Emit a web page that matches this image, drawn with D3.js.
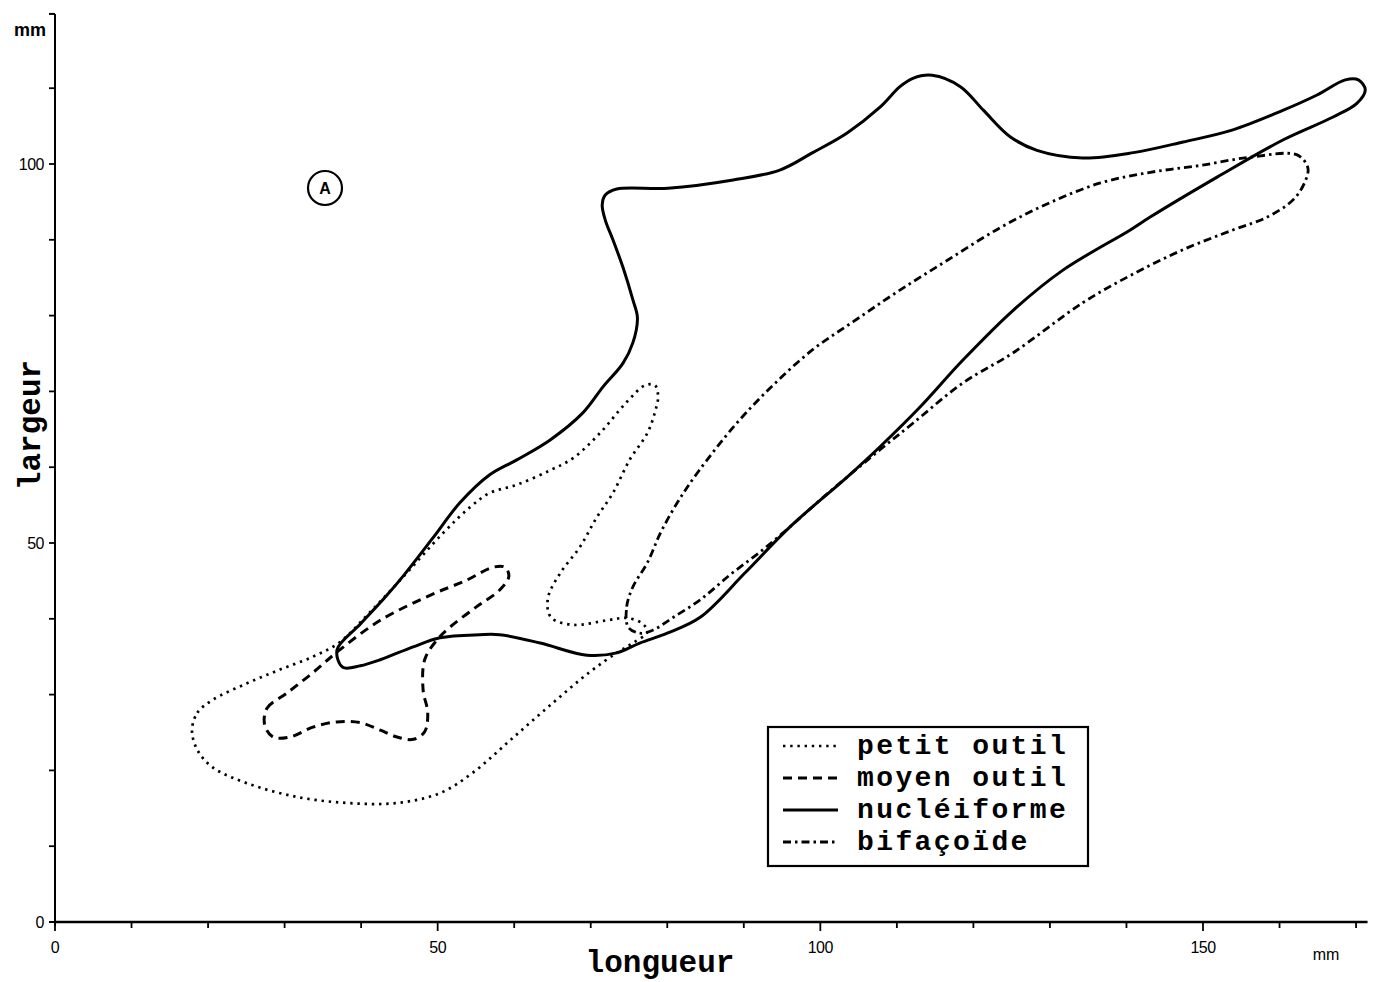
<!DOCTYPE html>
<html><head><meta charset="utf-8">
<script src="https://cdn.jsdelivr.net/npm/d3@7"></script>
<style>body{margin:0;background:#fff;}svg{display:block;}</style>
</head><body>
<svg id="c" width="1378" height="982"></svg>
<script>
// ---- data (mm) ----
const xTicks = [0,10,20,30,40,50,60,70,80,90,100,110,120,130,140,150,160,170];
const xTickLabels = [0,50,100,150];
const yTicks = [0,10,20,30,40,50,60,70,80,90,100,110];
const yTickLabels = [0,50,100];
const seriesNames = ["petit outil","moyen outil","nucléiforme","bifaçoïde"];

const petitOutil = [[17.9,25.3],[18.6,27.6],[20.6,29.3],[25.1,31.5],[29.4,33.3],[33.7,35.0],[37.2,36.9],[40.8,40.5],[45.1,45.1],[50.7,51.3],[54.2,54.7],[56.8,56.6],[60.4,57.7],[64.7,59.6],[67.7,61.2],[71.2,64.5],[74.7,68.6],[77.1,70.8],[78.4,70.8],[78.8,69.3],[78.4,67.3],[77.4,64.5],[75.1,61.0],[72.9,56.6],[70.8,53.4],[68.6,49.5],[66.0,46.0],[64.4,42.7],[64.8,40.2],[67.7,39.2],[72.1,39.8],[74.7,40.1],[76.7,39.4],[77.4,38.3],[75.5,36.8],[73.4,35.5],[69.9,33.0],[64.7,28.6],[59.5,24.0],[54.6,19.7],[50.3,17.0],[44.7,15.7],[38.2,15.7],[31.6,16.5],[25.1,18.3],[20.6,20.4],[18.6,22.7]];

const moyenOutil = [[27.4,26.0],[27.7,28.2],[30.3,30.2],[33.7,32.9],[37.2,35.9],[42.5,39.8],[49.0,43.1],[53.8,45.1],[57.2,46.8],[58.8,46.8],[59.3,45.6],[58.1,43.8],[55.1,41.6],[51.6,38.9],[49.9,37.2],[48.3,34.6],[48.1,30.6],[48.7,27.6],[48.3,25.1],[46.8,24.1],[44.7,24.4],[42.5,25.3],[39.9,26.3],[36.8,26.4],[33.7,25.7],[30.7,24.4],[28.5,24.4]];

const nucleiforme = [[36.85,35.9],[37.6,33.6],[39.9,33.8],[42.5,34.6],[46.8,36.3],[50.3,37.5],[55.5,37.9],[58.1,37.9],[63.4,36.8],[69.5,35.2],[73.4,35.5],[76.4,36.8],[80.0,38.1],[84.3,40.2],[90.2,46.1],[96.0,52.1],[103.5,58.7],[107.8,62.7],[113.0,67.9],[118.6,74.1],[125.2,80.7],[131.7,86.0],[140.5,91.3],[143.1,93.0],[151.9,98.3],[160.5,103.2],[167.0,106.2],[170.1,108.0],[171.2,109.8],[170.3,111.1],[168.6,111.1],[164.9,109.1],[160.5,107.1],[153.9,104.5],[147.4,102.9],[140.9,101.5],[134.3,100.8],[128.3,101.8],[124.8,103.6],[121.3,107.1],[118.3,110.2],[114.6,111.7],[112.1,111.3],[110.4,110.2],[107.8,107.5],[103.5,104.1],[99.0,101.5],[94.7,99.2],[88.6,97.9],[80.1,96.8],[73.4,96.7],[71.9,95.9],[71.5,94.6],[71.9,92.6],[72.9,90.0],[74.2,86.4],[75.5,82.1],[76.1,79.7],[75.5,76.4],[74.2,73.7],[71.6,70.6],[69.0,67.2],[64.7,63.6],[60.4,61.0],[56.8,59.0],[52.9,55.3],[49.4,50.7],[45.7,45.9],[43.1,42.8],[39.9,39.3]];

const bifacoide = [[74.9,38.9],[74.7,41.6],[75.5,44.2],[77.4,47.4],[79.1,51.3],[81.3,55.3],[83.9,59.2],[88.9,65.6],[93.8,70.8],[99.0,75.5],[104.3,79.2],[110.0,83.1],[116.6,87.3],[123.5,91.6],[130.0,94.9],[136.6,97.5],[143.1,98.9],[149.6,99.8],[156.2,100.9],[162.3,101.2],[163.7,99.5],[163.3,97.6],[161.8,95.3],[158.4,93.0],[153.9,91.3],[147.4,88.7],[140.9,85.5],[134.3,81.7],[125.2,75.1],[118.6,71.1],[112.1,65.8],[107.8,62.3],[103.5,58.7],[100.0,55.7],[96.0,52.1],[92.1,48.8],[88.2,45.8],[84.3,42.5],[80.8,40.2],[78.1,38.5],[76.4,38.1]];

// ---- drawing ----
const svg = d3.select("#c");
const x = d3.scaleLinear().domain([0,150]).range([55,1203]);
const y = d3.scaleLinear().domain([0,100]).range([922,164]);

const styles = [
  {data: petitOutil, dash: "2.4,4.8", width: 2.7, cap: "butt"},
  {data: moyenOutil, dash: "9,6", width: 3, cap: "butt"},
  {data: nucleiforme, dash: null, width: 3, cap: "round"},
  {data: bifacoide, dash: "8,4,2.5,4", width: 2.8, cap: "butt"}
];

const line = d3.line().x(d=>x(d[0])).y(d=>y(d[1])).curve(d3.curveCatmullRomClosed.alpha(0.5));

styles.forEach(s=>{
  svg.append("path").attr("d", line(s.data))
    .attr("fill","none").attr("stroke","#000")
    .attr("stroke-width", s.width)
    .attr("stroke-linecap", s.cap)
    .attr("stroke-linejoin", "round")
    .attr("stroke-dasharray", s.dash);
});

// axes
const axisG = svg.append("g");
axisG.append("line").attr("x1",x(0)).attr("x2",x(171.5)).attr("y1",y(0)).attr("y2",y(0))
  .attr("stroke","#000").attr("stroke-width",2.5);
axisG.append("line").attr("x1",x(0)).attr("x2",x(0)).attr("y1",y(0)+4).attr("y2",y(119.8))
  .attr("stroke","#000").attr("stroke-width",2);
axisG.append("line").attr("x1",x(0)-6).attr("x2",x(0)).attr("y1",y(119.8)).attr("y2",y(119.8))
  .attr("stroke","#000").attr("stroke-width",2);
axisG.append("line").attr("x1",x(0)-6).attr("x2",x(0)+10).attr("y1",y(0)).attr("y2",y(0))
  .attr("stroke","#000").attr("stroke-width",2);

axisG.selectAll(".xt").data(xTicks).enter().append("line")
  .attr("x1",d=>x(d)).attr("x2",d=>x(d))
  .attr("y1",y(0)).attr("y2",d=> y(0) + (d%50===0 ? 9 : 6))
  .attr("stroke","#000").attr("stroke-width",1.8);
axisG.selectAll(".yt").data(yTicks).enter().append("line")
  .attr("x1",x(0)-6).attr("x2",x(0))
  .attr("y1",d=>y(d)).attr("y2",d=>y(d))
  .attr("stroke","#000").attr("stroke-width",1.8);

const tickFont = "Liberation Sans, Arial, sans-serif";
axisG.selectAll(".xl").data(xTickLabels).enter().append("text")
  .attr("x",d=>x(d)).attr("y",y(0)+31)
  .attr("text-anchor","middle").attr("font-family",tickFont).attr("font-size",16)
  .attr("letter-spacing",-0.5).text(d=>d);
axisG.selectAll(".yl").data(yTickLabels).enter().append("text")
  .attr("x",x(0)-11).attr("y",d=>y(d)+6)
  .attr("text-anchor","end").attr("font-family",tickFont).attr("font-size",16)
  .attr("letter-spacing",-0.5).text(d=>d);
axisG.append("text").attr("x",x(0)-9).attr("y",y(119.8)+22).attr("text-anchor","end")
  .attr("font-family",tickFont).attr("font-size",18).attr("font-weight","bold").text("mm");
axisG.append("text").attr("x",1326).attr("y",y(0)+38).attr("text-anchor","middle")
  .attr("font-family",tickFont).attr("font-size",16).text("mm");

const mono = "Liberation Mono, DejaVu Sans Mono, monospace";
svg.append("text").attr("x",660).attr("y",972).attr("text-anchor","middle")
  .attr("font-family",mono).attr("font-size",31).attr("font-weight","bold").text("longueur");
svg.append("text").attr("transform","translate(40,425) rotate(-90)").attr("text-anchor","middle")
  .attr("font-family",mono).attr("font-size",31).attr("font-weight","bold").text("largeur");

// circled A
svg.append("circle").attr("cx",325).attr("cy",188).attr("r",17).attr("fill","none")
  .attr("stroke","#000").attr("stroke-width",2.2);
svg.append("text").attr("x",325).attr("y",194).attr("text-anchor","middle")
  .attr("font-family",tickFont).attr("font-weight","bold").attr("font-size",16).text("A");

// legend
const lg = svg.append("g");
lg.append("rect").attr("x",768).attr("y",727).attr("width",320).attr("height",139)
  .attr("fill","#fff").attr("stroke","#000").attr("stroke-width",2.2);
seriesNames.forEach((n,i)=>{
  const cy = 746 + i*32;
  lg.append("line").attr("x1",783).attr("x2",838).attr("y1",cy).attr("y2",cy)
    .attr("stroke","#000").attr("stroke-width",styles[i].width)
    .attr("stroke-dasharray",styles[i].dash);
  lg.append("text").attr("x",857).attr("y",cy+8)
    .attr("font-family",mono).attr("font-size",28).attr("letter-spacing",2.4)
    .attr("font-weight","bold").text(n);
});
</script>
</body></html>
